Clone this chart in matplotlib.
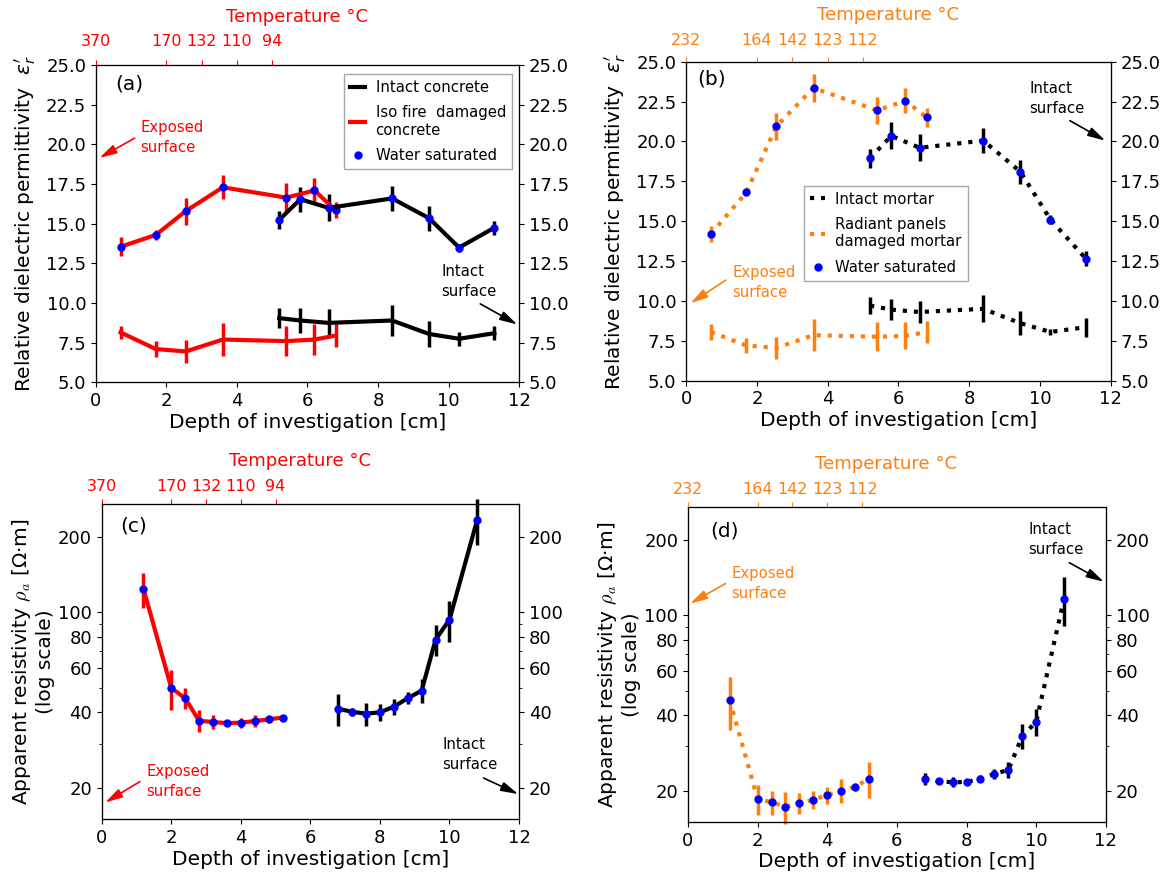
import matplotlib
matplotlib.use('Agg')
import matplotlib.pyplot as plt
from matplotlib.lines import Line2D
from matplotlib.ticker import NullFormatter
import numpy as np

# ---- data ----
temp_pos = [0, 2, 3, 4, 5]
temp_fire = ['370', '170', '132', '110', '94']
temp_rad = ['232', '164', '142', '123', '112']

# (a) concrete permittivity
depth_fire_a = [0.7, 1.7, 2.55, 3.6, 5.4, 6.2, 6.8]
eps_fire_sat = [13.55, 14.3, 15.8, 17.3, 16.65, 17.1, 15.85]
err_fire_sat = [0.6, 0.3, 0.85, 0.75, 0.9, 0.8, 0.5]
eps_fire_dry = [8.15, 7.1, 6.95, 7.7, 7.6, 7.7, 7.95]
err_fire_dry = [0.4, 0.5, 0.75, 1.05, 0.95, 0.95, 0.7]
depth_intact_a = [5.2, 5.8, 6.6, 8.4, 9.45, 10.3, 11.3]
eps_intact_sat = [15.25, 16.55, 16.0, 16.6, 15.35, 13.5, 14.75]
err_intact_sat = [0.55, 0.8, 0.85, 0.8, 0.8, 0.25, 0.45]
eps_intact_dry = [9.05, 8.9, 8.75, 8.9, 8.05, 7.75, 8.1]
err_intact_dry = [0.65, 0.8, 0.85, 1.0, 0.85, 0.45, 0.45]

# (b) mortar permittivity
eps_rad_sat = [14.2, 16.8, 20.95, 23.35, 21.95, 22.55, 21.5]
err_rad_sat = [0.5, 0.25, 0.85, 0.85, 0.85, 0.8, 0.6]
eps_rad_dry = [8.05, 7.2, 7.05, 7.85, 7.75, 7.8, 8.05]
err_rad_dry = [0.5, 0.45, 0.7, 1.0, 0.9, 0.85, 0.7]
eps_mortar_sat = [18.95, 20.35, 19.6, 20.05, 18.1, 15.1, 12.65]
err_mortar_sat = [0.6, 0.85, 0.85, 0.8, 0.75, 0.3, 0.45]
eps_mortar_dry = [9.7, 9.45, 9.3, 9.5, 8.6, 8.05, 8.35]
err_mortar_dry = [0.55, 0.65, 0.7, 0.85, 0.75, 0.2, 0.6]

# (c) / (d) resistivity
depth_fire_c = [1.2, 2.0, 2.4, 2.8, 3.2, 3.6, 4.0, 4.4, 4.8, 5.2]
depth_intact_c = [6.8, 7.2, 7.6, 8.0, 8.4, 8.8, 9.2, 9.6, 10.0, 10.8]
rho_fire = [124, 50, 45.5, 37.0, 36.6, 36.2, 36.4, 36.9, 37.5, 38.1]
err_rho_fire = [20, 9, 4.3, 3.7, 2.3, 1.0, 1.7, 2.0, 1.3, 0.5]
rho_intact = [41.3, 40.2, 39.5, 40.0, 42.1, 45.5, 48.8, 77.8, 93.5, 234]
err_rho_intact = [5.9, 1.4, 4.2, 3.0, 3.2, 2.5, 5.4, 11, 17, 49]
rho_rad = [45.8, 18.5, 18.0, 17.25, 17.85, 18.4, 19.2, 20.0, 20.7, 22.3]
err_rho_rad = [11, 2.5, 2.0, 2.5, 1.7, 1.5, 1.5, 2.2, 0.8, 3.6]
rho_mortar = [22.3, 21.8, 21.6, 21.65, 22.3, 23.3, 24.2, 33.0, 37.6, 116.6]
err_rho_mortar = [1.3, 0.3, 1.0, 0.3, 0.7, 1.1, 1.8, 3.7, 4.7, 26]

RED = '#ff0000'
ORANGE = '#ff7f0e'
BLUE = '#0000ff'

eps_ticks = np.arange(5, 25.1, 2.5)
rho_ticks = [20, 40, 60, 80, 100, 200]
rho_minor = [30, 50, 70, 90]

fig = plt.figure(figsize=(11.69, 8.81), dpi=100)
ax_a = fig.add_axes([0.082, 0.566, 0.362, 0.360])
ax_b = fig.add_axes([0.587, 0.568, 0.363, 0.362])
ax_c = fig.add_axes([0.087, 0.070, 0.357, 0.358])
ax_d = fig.add_axes([0.5885, 0.067, 0.3575, 0.3575])


def plot_series(ax, x, y, err, color, ls, sat):
    kw = dict(color=color, ls=ls, lw=3, elinewidth=2.5, ecolor=color, capsize=0)
    if sat:
        kw.update(marker='o', ms=5, mfc=BLUE, mec=BLUE)
    cont = ax.errorbar(x, y, yerr=err, **kw)
    for art in cont.get_children():
        art.set_clip_on(False)


def arrow_note(ax, text, color, txy, tail, tip, size=10.7):
    ax.text(txy[0], txy[1], text, color=color, fontsize=size, ha='left', va='center',
            linespacing=1.4)
    ax.annotate('', xy=tip, xytext=tail,
                arrowprops=dict(arrowstyle='-|>,head_length=0.75,head_width=0.2',
                                color=color, lw=1.2, mutation_scale=14,
                                shrinkA=0, shrinkB=0))


def style_axes(ax, log, tcolor, tlabels, panel, pxy, tpad=3.5, ty=1.12):
    ax.set_xlim(0, 12)
    ax.set_xticks(range(0, 13, 2))
    ax.tick_params(labelsize=13)
    ax.set_xlabel('Depth of investigation [cm]', fontsize=14.5, labelpad=2)
    right = ax.twinx()
    if log:
        for a in (ax, right):
            a.set_yscale('log')
            a.set_ylim(15, 270)
            a.set_yticks(rho_ticks)
            a.set_yticklabels([str(t) for t in rho_ticks])
            a.set_yticks(rho_minor, minor=True)
            a.yaxis.set_minor_formatter(NullFormatter())
            a.tick_params(labelsize=13)
    else:
        for a in (ax, right):
            a.set_ylim(5, 25)
            a.set_yticks(eps_ticks)
            a.tick_params(labelsize=13)
    top = ax.twiny()
    top.set_xlim(0, 12)
    top.set_xticks(temp_pos)
    top.set_xticklabels(tlabels)
    top.tick_params(axis='x', colors=tcolor, labelsize=11.5, pad=tpad)
    top.set_xlabel('Temperature °C', color=tcolor, fontsize=13)
    top.xaxis.set_label_coords(0.475, ty)
    ax.text(pxy[0], pxy[1], panel, transform=ax.transAxes, fontsize=14.5,
            ha='left', va='center')


leg_kw = dict(borderaxespad=0, fontsize=10.7, handlelength=1.0, numpoints=1,
              fancybox=False, edgecolor='0.65', framealpha=1, labelspacing=0.7,
              handletextpad=0.7)

# (a)
plot_series(ax_a, depth_fire_a, eps_fire_sat, err_fire_sat, RED, '-', True)
plot_series(ax_a, depth_fire_a, eps_fire_dry, err_fire_dry, RED, '-', False)
plot_series(ax_a, depth_intact_a, eps_intact_sat, err_intact_sat, 'black', '-', True)
plot_series(ax_a, depth_intact_a, eps_intact_dry, err_intact_dry, 'black', '-', False)
ax_a.set_ylabel("Relative dielectric permittivity  $\\varepsilon^{\\prime}_r$", fontsize=14.5, labelpad=6)
arrow_note(ax_a, 'Exposed\nsurface', RED, (1.27, 20.45), (1.1, 20.4), (0.1, 19.15))
arrow_note(ax_a, 'Intact\nsurface', 'black', (9.8, 11.35), (10.9, 9.95), (11.95, 8.65))
ax_a.legend([Line2D([], [], color='black', lw=3), Line2D([], [], color=RED, lw=3),
             Line2D([], [], ls='none', marker='o', ms=5, color=BLUE)],
            ['Intact concrete', 'Iso fire  damaged\nconcrete', 'Water saturated'],
            loc='upper right', bbox_to_anchor=(0.983, 0.972), **leg_kw)
style_axes(ax_a, False, RED, temp_fire, '(a)', (0.045, 0.94), tpad=8, ty=1.135)

# (b)
plot_series(ax_b, depth_fire_a, eps_rad_sat, err_rad_sat, ORANGE, ':', True)
plot_series(ax_b, depth_fire_a, eps_rad_dry, err_rad_dry, ORANGE, ':', False)
plot_series(ax_b, depth_intact_a, eps_mortar_sat, err_mortar_sat, 'black', ':', True)
plot_series(ax_b, depth_intact_a, eps_mortar_dry, err_mortar_dry, 'black', ':', False)
ax_b.set_ylabel("Relative dielectric permittivity  $\\varepsilon^{\\prime}_r$", fontsize=14.5, labelpad=6)
arrow_note(ax_b, 'Exposed\nsurface', ORANGE, (1.3, 11.15), (1.12, 11.3), (0.12, 9.85))
arrow_note(ax_b, 'Intact\nsurface', 'black', (9.7, 22.7), (10.85, 21.3), (11.85, 20.05))
ax_b.legend([Line2D([], [], color='black', lw=3, ls=':'), Line2D([], [], color=ORANGE, lw=3, ls=':'),
             Line2D([], [], ls='none', marker='o', ms=5, color=BLUE)],
            ['Intact mortar', 'Radiant panels\ndamaged mortar', 'Water saturated'],
            loc='upper left', bbox_to_anchor=(0.278, 0.611), **leg_kw)
style_axes(ax_b, False, ORANGE, temp_rad, '(b)', (0.027, 0.945), tpad=6.5, ty=1.13)

# (c)
plot_series(ax_c, depth_fire_c, rho_fire, err_rho_fire, RED, '-', True)
plot_series(ax_c, depth_intact_c, rho_intact, err_rho_intact, 'black', '-', True)
ax_c.set_ylabel('Apparent resistivity $\\rho_a$ [Ω·m]\n(log scale)', fontsize=14.5,
                math_fontfamily='cm', labelpad=2)
arrow_note(ax_c, 'Exposed\nsurface', RED, (1.28, 21.2), (1.1, 21.2), (0.1, 17.5))
arrow_note(ax_c, 'Intact\nsurface', 'black', (9.8, 27.1), (10.98, 21.9), (11.98, 18.9))
style_axes(ax_c, True, RED, temp_fire, '(c)', (0.044, 0.93))

# (d)
plot_series(ax_d, depth_fire_c, rho_rad, err_rho_rad, ORANGE, ':', True)
plot_series(ax_d, depth_intact_c, rho_mortar, err_rho_mortar, 'black', ':', True)
ax_d.set_ylabel('Apparent resistivity $\\rho_a$ [Ω·m]\n(log scale)', fontsize=14.5,
                math_fontfamily='cm', labelpad=2)
arrow_note(ax_d, 'Exposed\nsurface', ORANGE, (1.25, 134), (1.08, 133.8), (0.06, 111.3))
arrow_note(ax_d, 'Intact\nsurface', 'black', (9.77, 201), (10.95, 162), (11.94, 136))
style_axes(ax_d, True, ORANGE, temp_rad, '(d)', (0.053, 0.925))

fig.savefig('out.png', dpi=100)
